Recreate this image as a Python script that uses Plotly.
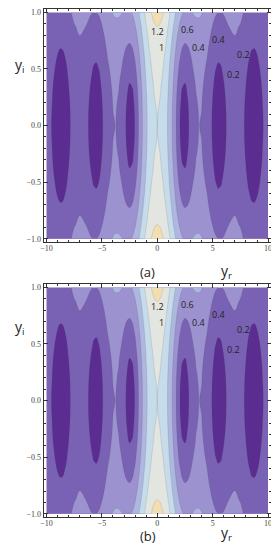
import plotly.graph_objects as go

# |f(y_r + i y_i)|, quadrant y_r >= 0, y_i >= 0 (figure is mirror-symmetric)
yr_half = [0, 0.25, 0.5, 0.75, 1, 1.25, 1.5, 1.75, 2, 2.25, 2.5, 2.75, 3, 3.25, 3.5, 3.75,
           4, 4.5, 5, 5.25, 5.5, 5.75, 6, 6.5, 7, 7.5, 8, 8.25, 8.5, 8.75, 9, 9.5, 10]
yi_half = [0, 0.125, 0.25, 0.375, 0.5, 0.625, 0.75, 0.875, 1.0]

z_yi_000 = [1.000, 0.984, 0.938, 0.864, 0.765, 0.646, 0.512, 0.369, 0.224, 0.083, 0.048, 0.164, 0.260,
            0.333, 0.380, 0.401, 0.397, 0.321, 0.178, 0.093, 0.007, 0.076, 0.151, 0.260, 0.300, 0.266,
            0.172, 0.109, 0.042, 0.026, 0.090, 0.194, 0.246]
z_yi_125 = [1.004, 0.988, 0.943, 0.869, 0.770, 0.651, 0.518, 0.376, 0.235, 0.107, 0.080, 0.175, 0.266,
            0.337, 0.384, 0.404, 0.400, 0.324, 0.183, 0.103, 0.043, 0.087, 0.156, 0.263, 0.302, 0.269,
            0.175, 0.115, 0.054, 0.043, 0.096, 0.197, 0.248]
z_yi_250 = [1.016, 1.000, 0.955, 0.881, 0.783, 0.666, 0.535, 0.398, 0.265, 0.158, 0.137, 0.205, 0.285,
            0.351, 0.395, 0.414, 0.409, 0.334, 0.199, 0.128, 0.086, 0.113, 0.172, 0.272, 0.310, 0.276,
            0.186, 0.130, 0.081, 0.073, 0.113, 0.205, 0.254]
z_yi_375 = [1.036, 1.020, 0.975, 0.902, 0.806, 0.691, 0.564, 0.433, 0.311, 0.221, 0.200, 0.247, 0.314,
            0.373, 0.413, 0.430, 0.425, 0.351, 0.224, 0.163, 0.131, 0.149, 0.196, 0.286, 0.322, 0.289,
            0.203, 0.153, 0.113, 0.107, 0.136, 0.218, 0.264]
z_yi_500 = [1.064, 1.048, 1.004, 0.932, 0.838, 0.725, 0.603, 0.478, 0.367, 0.289, 0.268, 0.299, 0.353,
            0.404, 0.439, 0.453, 0.447, 0.375, 0.257, 0.204, 0.178, 0.189, 0.227, 0.307, 0.338, 0.306,
            0.226, 0.181, 0.149, 0.143, 0.165, 0.236, 0.279]
z_yi_625 = [1.100, 1.085, 1.042, 0.971, 0.879, 0.770, 0.652, 0.535, 0.432, 0.361, 0.338, 0.359, 0.400,
            0.442, 0.472, 0.484, 0.476, 0.406, 0.296, 0.250, 0.227, 0.234, 0.264, 0.333, 0.361, 0.329,
            0.254, 0.215, 0.187, 0.182, 0.199, 0.259, 0.298]
z_yi_750 = [1.146, 1.131, 1.088, 1.020, 0.930, 0.824, 0.711, 0.600, 0.505, 0.439, 0.414, 0.425, 0.456,
            0.489, 0.513, 0.521, 0.512, 0.443, 0.342, 0.300, 0.279, 0.283, 0.307, 0.365, 0.388, 0.358,
            0.288, 0.253, 0.229, 0.223, 0.236, 0.288, 0.321]
z_yi_875 = [1.201, 1.186, 1.144, 1.078, 0.990, 0.888, 0.780, 0.675, 0.585, 0.522, 0.495, 0.498, 0.519,
            0.544, 0.562, 0.566, 0.555, 0.488, 0.394, 0.356, 0.336, 0.337, 0.355, 0.403, 0.422, 0.392,
            0.327, 0.296, 0.274, 0.268, 0.278, 0.321, 0.350]
z_yi_1000 = [1.266, 1.252, 1.211, 1.146, 1.061, 0.962, 0.858, 0.758, 0.673, 0.612, 0.581, 0.577, 0.590,
             0.608, 0.620, 0.621, 0.608, 0.541, 0.452, 0.417, 0.398, 0.396, 0.410, 0.449, 0.463, 0.432,
             0.372, 0.343, 0.324, 0.317, 0.325, 0.360, 0.385]

contour_levels = [0.2, 0.4, 0.6, 0.8, 1.0, 1.2]
band_colors = ["#5C2D91", "#7962B3", "#9B92CF", "#AEB8DF", "#C6DCEB", "#E3E6E0", "#F2DEB0"]

label_text = ["1.2", "1", "0.6", "0.4", "0.4", "0.2", "0.2"]
label_yr = [0.0, 0.4, 2.7, 3.75, 5.5, 7.75, 6.85]
label_yi = [0.83, 0.69, 0.85, 0.69, 0.76, 0.63, 0.45]

panel_names = ["(a)", "(b)"]

# ---- build the full mirrored table ----
rows_half = [z_yi_000, z_yi_125, z_yi_250, z_yi_375, z_yi_500, z_yi_625, z_yi_750, z_yi_875, z_yi_1000]
x_full = [-v for v in reversed(yr_half[1:])] + yr_half
y_full = [-v for v in reversed(yi_half[1:])] + yi_half


def mirror_row(r):
    return list(reversed(r[1:])) + list(r)


z_full = [mirror_row(r) for r in reversed(rows_half[1:])] + [mirror_row(r) for r in rows_half]

n = len(band_colors)
colorscale = [[i / (n - 1), c] for i, c in enumerate(band_colors)]

# page body has an 8px default margin: lay the figure out in window pixels minus that offset
OFF = 8
WIN_W, WIN_H = 279, 550
W, H = WIN_W - OFF, WIN_H - OFF


def px(xw):
    return (xw - OFF) / W


def py(yw):
    return 1 - (yw - OFF) / H


frame_left, frame_right = 41, 272
frames_tb = [(8, 242), (284, 518)]

fig = go.Figure()
annotations = []
for k, (top, bot) in enumerate(frames_tb):
    xa = "x" if k == 0 else "x2"
    ya = "y" if k == 0 else "y2"
    fig.add_trace(go.Contour(
        x=x_full, y=y_full, z=z_full,
        contours=dict(start=contour_levels[0], end=contour_levels[-1],
                      size=contour_levels[1] - contour_levels[0],
                      coloring="fill", showlines=True),
        line=dict(width=0.5, color="rgba(60,60,60,0.25)", smoothing=1.0),
        colorscale=colorscale, showscale=False, hoverinfo="skip",
        xaxis=xa, yaxis=ya,
    ))
    for t, lx, ly in zip(label_text, label_yr, label_yi):
        annotations.append(dict(text=t, x=lx, y=ly, xref=xa, yref=ya, showarrow=False,
                                font=dict(family="Open Sans", size=9, color="#222")))
    annotations.append(dict(text="y<sub>i</sub>", x=px(10), y=py(top + 44),
                            xref="paper", yref="paper", showarrow=False,
                            font=dict(family="Open Sans", size=14, color="#222")))
    annotations.append(dict(text="y<sub>r</sub>", x=px(234), y=py(bot + 29),
                            xref="paper", yref="paper", showarrow=False,
                            font=dict(family="Open Sans", size=14, color="#222")))
    annotations.append(dict(text=panel_names[k], x=px(147), y=py(bot + 30),
                            xref="paper", yref="paper", showarrow=False,
                            font=dict(family="Open Sans", size=13, color="#222")))

axis_common = dict(showgrid=False, zeroline=False, showline=True, linecolor="#333", linewidth=1,
                   mirror="allticks", ticks="inside", ticklen=4, tickwidth=1, tickcolor="#333",
                   tickfont=dict(family="Liberation Serif", size=8, color="#444"))

layout = dict(width=W, height=H, margin=dict(l=0, r=0, t=0, b=0),
              paper_bgcolor="white", plot_bgcolor="white", showlegend=False,
              annotations=annotations)
for k, (top, bot) in enumerate(frames_tb):
    sx = "" if k == 0 else "2"
    layout["xaxis" + sx] = dict(axis_common, domain=[px(frame_left), px(frame_right)],
                                range=[-10.27, 10.27], tick0=0, dtick=5, ticklabelstandoff=-2,
                                minor=dict(ticks="inside", ticklen=2, dtick=1, tickcolor="#333"),
                                anchor="y" + sx)
    layout["yaxis" + sx] = dict(axis_common, domain=[py(bot), py(top)],
                                range=[-1.03, 1.03], tick0=0, dtick=0.5, tickformat=".1f",
                                minor=dict(ticks="inside", ticklen=2, dtick=0.1, tickcolor="#333"),
                                anchor="x" + sx)

fig.update_layout(**layout)
fig.write_html("out.html")
